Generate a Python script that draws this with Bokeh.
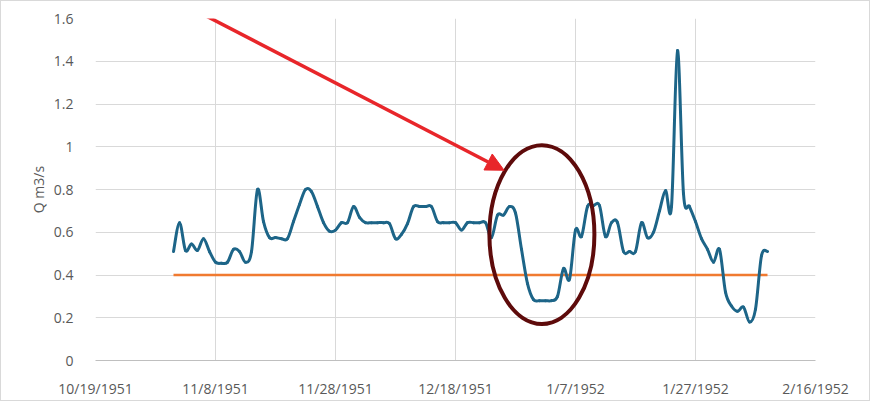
import numpy as np
import pandas as pd
from bokeh.plotting import figure
from bokeh.models import Range1d, FixedTicker, Arrow, NormalHead
from bokeh.embed import file_html
from bokeh.resources import INLINE

# ---------------- data ----------------
start_date = "1951-11-01"
flow = [0.51, 0.645, 0.515, 0.545, 0.515, 0.57, 0.51, 0.46, 0.455, 0.46,
        0.52, 0.51, 0.46, 0.51, 0.80, 0.65, 0.575, 0.575, 0.57, 0.57,
        0.65, 0.73, 0.80, 0.79, 0.72, 0.645, 0.605, 0.61, 0.645, 0.645,
        0.72, 0.67, 0.645, 0.645, 0.645, 0.645, 0.64, 0.57, 0.59, 0.64,
        0.72, 0.72, 0.72, 0.72, 0.65, 0.645, 0.645, 0.645, 0.61, 0.645,
        0.645, 0.645, 0.645, 0.575, 0.68, 0.68, 0.72, 0.69, 0.52, 0.36,
        0.285, 0.28, 0.28, 0.28, 0.30, 0.43, 0.38, 0.61, 0.58, 0.72,
        0.725, 0.725, 0.58, 0.645, 0.645, 0.51, 0.51, 0.51, 0.645, 0.575,
        0.60, 0.70, 0.795, 0.72, 1.45, 0.78, 0.72, 0.65, 0.57, 0.52,
        0.46, 0.52, 0.32, 0.255, 0.23, 0.25, 0.18, 0.24, 0.49, 0.51]
threshold = 0.4

tick_dates = ["1951-10-19", "1951-11-08", "1951-11-28", "1951-12-18",
              "1952-01-07", "1952-01-27", "1952-02-16"]
tick_labels = ["10/19/1951", "11/8/1951", "11/28/1951", "12/18/1951",
               "1/7/1952", "1/27/1952", "2/16/1952"]
y_ticks = [0, 0.2, 0.4, 0.6, 0.8, 1, 1.2, 1.4, 1.6]
y_tick_labels = ["0", "0.2", "0.4", "0.6", "0.8", "1", "1.2", "1.4", "1.6"]

# ---------------- helpers ----------------
def to_ms(d):
    return pd.Timestamp(d).value / 1e6

dates = pd.date_range(start_date, periods=len(flow), freq="D")
x = np.array([d.value / 1e6 for d in dates])
y = np.array(flow, dtype=float)
n = len(y)

# Excel-like smoothed line: Catmull-Rom -> cubic Bezier segments
im1 = np.clip(np.arange(n - 1) - 1, 0, n - 1)
i0 = np.arange(n - 1)
i1 = i0 + 1
i2 = np.clip(i0 + 2, 0, n - 1)
cx0 = x[i0] + (x[i1] - x[im1]) / 6
cy0 = y[i0] + (y[i1] - y[im1]) / 6
cx1 = x[i1] - (x[i2] - x[i0]) / 6
cy1 = y[i1] - (y[i2] - y[i0]) / 6

tick_ms = [to_ms(d) for d in tick_dates]
DAY = 86400000.0

FONT = "Open Sans"
GREY = "#595959"
GRID = "#D9D9D9"

p = figure(width=868, height=396, frame_width=720, frame_height=342,
           x_axis_type="datetime",
           output_backend="svg", toolbar_location=None,
           x_range=Range1d(tick_ms[0], tick_ms[-1]),
           y_range=Range1d(0, 1.6),
           min_border_left=94, min_border_right=54,
           min_border_top=17, min_border_bottom=37)
p.styles = {"border": "1px solid #D9D9D9"}
p.outline_line_color = None
p.background_fill_color = "white"
p.border_fill_color = "white"

# axes
p.xaxis.ticker = FixedTicker(ticks=tick_ms)
p.xaxis.major_label_overrides = {t: l for t, l in zip(tick_ms, tick_labels)}
p.yaxis.ticker = FixedTicker(ticks=y_ticks)
p.yaxis.major_label_overrides = {t: l for t, l in zip(y_ticks, y_tick_labels)}
for ax in (p.xaxis[0], p.yaxis[0]):
    ax.major_tick_line_color = None
    ax.minor_tick_line_color = None
    ax.major_label_text_font = FONT
    ax.major_label_text_font_size = "14px"
    ax.major_label_text_color = GREY
p.xaxis.axis_line_color = "#BFBFBF"
p.xaxis.major_label_standoff = 12
p.yaxis.axis_line_color = None
p.yaxis.major_label_standoff = 16
p.yaxis.axis_label = "Q m3/s"
p.yaxis.axis_label_text_font = FONT
p.yaxis.axis_label_text_font_size = "14px"
p.yaxis.axis_label_text_font_style = "normal"
p.yaxis.axis_label_text_color = GREY
p.yaxis.axis_label_standoff = 3

p.xgrid.grid_line_color = GRID
p.ygrid.grid_line_color = GRID
p.xgrid.grid_line_width = 1
p.ygrid.grid_line_width = 1

# threshold line
p.line(x=[x[0], x[-1]], y=[threshold, threshold], line_color="#F07A30",
       line_width=2.5)

# flow series (smoothed)
p.bezier(x0=x[i0], y0=y[i0], x1=x[i1], y1=y[i1],
         cx0=cx0, cy0=cy0, cx1=cx1, cy1=cy1,
         line_color="#1D6588", line_width=3, line_cap="round",
         line_join="round")

# ellipse highlighting the low-flow period
p.ellipse(x=[to_ms("1951-10-19") + 74.4 * DAY], y=[0.589],
          width=[17.5 * DAY], height=[0.837],
          fill_color=None, line_color="#5E0B0B", line_width=4)

# red arrow
p.add_layout(Arrow(end=NormalHead(size=18, fill_color="#E8262A",
                                  line_color="#E8262A"),
                   x_start=to_ms("1951-10-19") + 11.0 * DAY, y_start=1.72,
                   x_end=to_ms("1951-10-19") + 68.1 * DAY, y_end=0.89,
                   line_color="#E8262A", line_width=3.5))

open("out.html", "w").write(file_html(p, INLINE))
